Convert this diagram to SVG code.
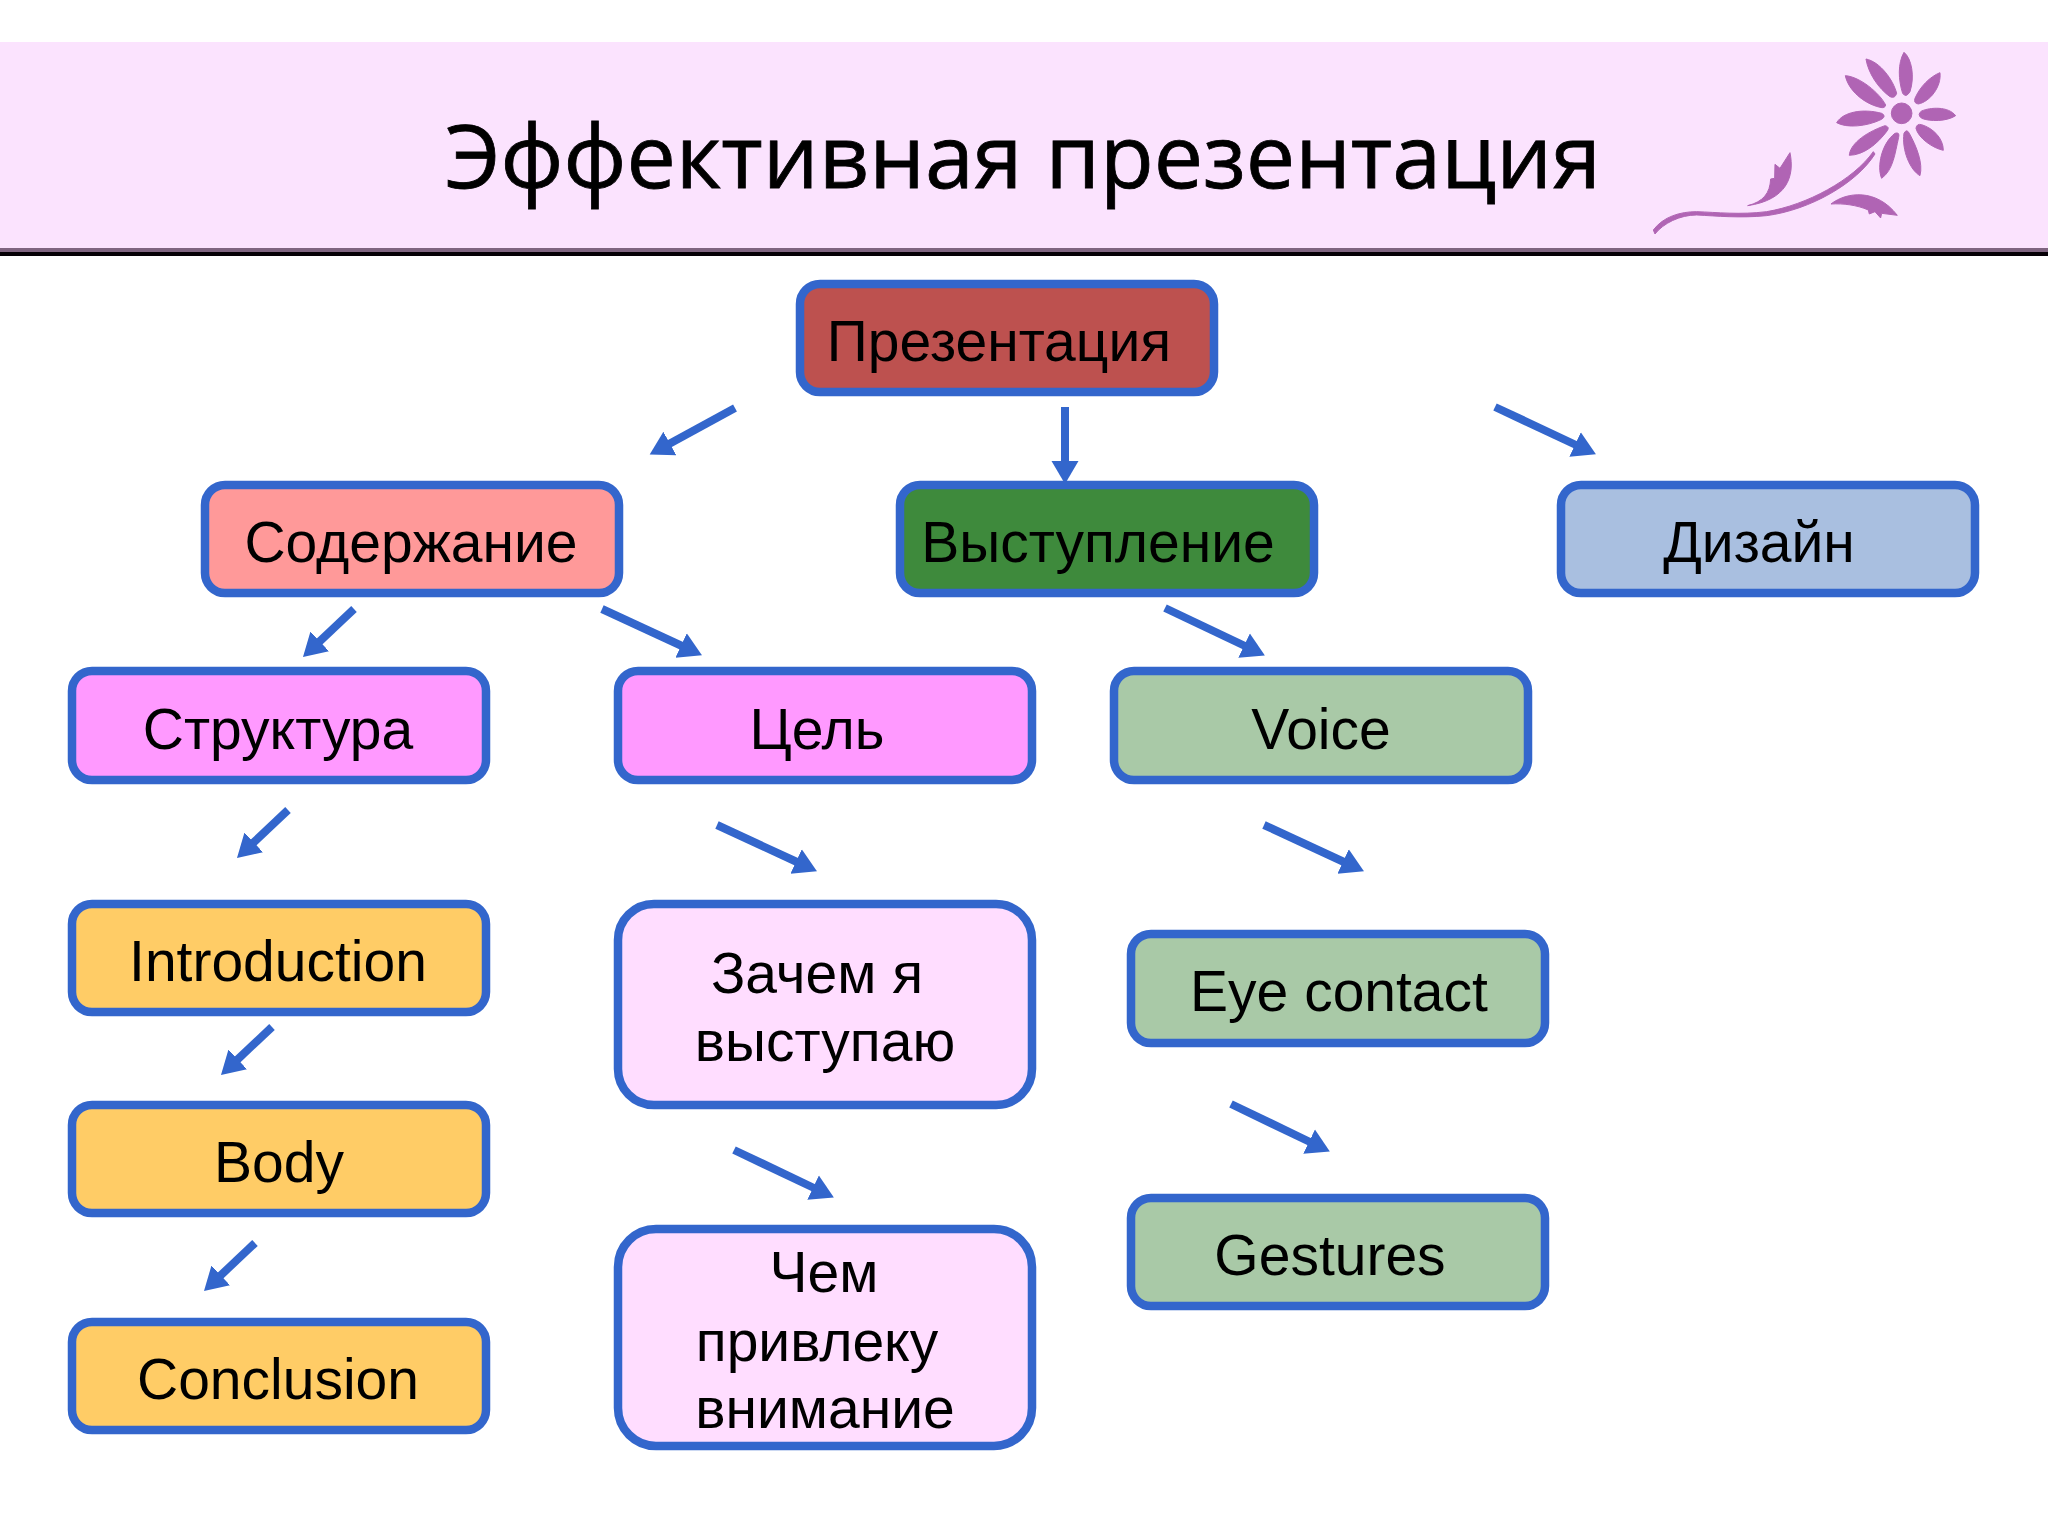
<svg xmlns="http://www.w3.org/2000/svg" width="2048" height="1536" viewBox="0 0 2048 1536">
<style>
.b{stroke:#3366cc;stroke-width:8.500}
.t{font-family:"Liberation Sans",Arial,sans-serif;font-size:57px;fill:#000;text-anchor:middle}
.c{stroke:#3366cc;stroke-width:8;fill:none;marker-end:url(#a)}
.f{fill:#b064b4;stroke:#b064b4;stroke-width:3}
</style>
<defs>
<marker id="a" markerUnits="userSpaceOnUse" markerWidth="26" markerHeight="30" refX="1" refY="15" orient="auto"><path d="M0,1.500L23,15L0,28.500Z" fill="#3366cc"/></marker>
</defs>
<rect width="2048" height="1536" fill="#fff"/>
<g id="header">
<rect x="0" y="42" width="2048" height="206" fill="#fbe3fe"/>
<rect x="0" y="248" width="2048" height="4" fill="#7f6480"/>
<rect x="0" y="252" width="2048" height="4" fill="#050005"/>
<text x="1023" y="188" font-family="'Open Sans',sans-serif" font-size="88" stroke="#000" stroke-width=".8" fill="#000" text-anchor="middle">Эффективная презентация</text>
<g transform="translate(1600,30) scale(.3333)" class="f">
<circle cx="905" cy="250" r="31"/>
<path d="M912,67C935,85 945,140 930,185Q918,205 908,190C895,150 893,100 912,67Z"/>
<path d="M1020,128C1025,170 990,215 955,222Q940,220 945,205C960,170 990,140 1020,128Z"/>
<path d="M1067,257C1040,275 990,275 965,265Q950,253 965,243C990,232 1045,228 1067,257Z"/>
<path d="M1030,361C1000,355 955,325 948,295Q950,280 965,284C1000,295 1030,325 1030,361Z"/>
<path d="M960,437C930,420 905,360 912,310Q920,295 928,310C950,350 970,400 960,437Z"/>
<path d="M845,445C830,410 845,340 885,310Q900,305 896,322C885,370 880,420 845,445Z"/>
<path d="M748,376C750,345 790,310 855,287Q870,290 862,302C830,345 790,375 748,376Z"/>
<path d="M710,278C730,245 790,235 845,250Q860,258 845,268C800,290 740,295 710,278Z"/>
<path d="M736,137C780,140 840,190 857,225Q855,236 840,232C790,220 745,180 736,137Z"/>
<path d="M798,87C840,95 880,150 890,190Q885,207 870,200C835,175 805,130 798,87Z"/>
<path d="M160,600C190,560 240,545 290,545C350,547 420,555 500,545C620,525 760,450 820,365L825,372C770,460 630,540 500,557C420,565 350,558 290,555C240,555 190,580 165,612Z"/>
<path d="M443,527C490,515 510,490 512,447L524,445L525,403L540,415L570,368C585,440 560,510 443,527Z"/>
<path d="M693,522C740,485 830,475 892,556L845,550L842,564L825,545L808,552L805,540C770,525 730,520 693,522Z"/>
</g>
</g>
<g id="connectors">
<path class="c" d="M735,408L669,444"/>
<path class="c" d="M1065,407V462"/>
<path class="c" d="M1495,407L1576,445"/>
<path class="c" d="M354,609L319,642"/>
<path class="c" d="M602,609L682,646"/>
<path class="c" d="M1165,608L1245,646"/>
<path class="c" d="M288,810L253,843"/>
<path class="c" d="M717,825L797,862"/>
<path class="c" d="M1264,825L1344,862"/>
<path class="c" d="M272,1027L237,1060"/>
<path class="c" d="M734,1150L814,1188"/>
<path class="c" d="M1231,1104L1310,1142"/>
<path class="c" d="M255,1243L220,1276"/>
</g>
<g id="n1"><rect class="b" x="800" y="284" width="414" height="108" rx="20" fill="#bd514f"/><text class="t" x="999" y="361">Презентация</text></g>
<g id="n2"><rect class="b" x="205" y="485" width="414" height="108" rx="20" fill="#ff9999"/><text class="t" x="411" y="562">Содержание</text></g>
<g id="n3"><rect class="b" x="900" y="485" width="414" height="108" rx="20" fill="#3e8a3c"/><text class="t" x="1098" y="562">Выступление</text></g>
<g id="n4"><rect class="b" x="1561" y="485" width="414" height="108" rx="20" fill="#a9bfe0"/><text class="t" x="1759" y="562">Дизайн</text></g>
<g id="n5"><rect class="b" x="72" y="671" width="414" height="109" rx="20" fill="#ff99ff"/><text class="t" x="278" y="749">Структура</text></g>
<g id="n6"><rect class="b" x="618" y="671" width="414" height="109" rx="20" fill="#ff99ff"/><text class="t" x="817" y="749">Цель</text></g>
<g id="n7"><rect class="b" x="1114" y="671" width="414" height="109" rx="20" fill="#a9c9a7"/><text class="t" x="1321" y="749">Voice</text></g>
<g id="n8"><rect class="b" x="72" y="904" width="414" height="108" rx="20" fill="#ffcc66"/><text class="t" x="278" y="981">Introduction</text></g>
<g id="n9"><rect class="b" x="72" y="1105" width="414" height="108" rx="20" fill="#ffcc66"/><text class="t" x="279" y="1182">Body</text></g>
<g id="n10"><rect class="b" x="72" y="1322" width="414" height="108" rx="20" fill="#ffcc66"/><text class="t" x="278" y="1399">Conclusion</text></g>
<g id="n11"><rect class="b" x="618" y="904" width="414" height="201" rx="36" fill="#ffddff"/><text class="t" x="817" y="993">Зачем я</text><text class="t" x="825" y="1061">выступаю</text></g>
<g id="n12"><rect class="b" x="618" y="1229" width="414" height="217" rx="38" fill="#ffddff"/><text class="t" x="824" y="1292">Чем</text><text class="t" x="817" y="1361">привлеку</text><text class="t" x="825" y="1428">внимание</text></g>
<g id="n13"><rect class="b" x="1131" y="934" width="414" height="109" rx="20" fill="#a9c9a7"/><text class="t" x="1339" y="1011">Eye contact</text></g>
<g id="n14"><rect class="b" x="1131" y="1198" width="414" height="108" rx="20" fill="#a9c9a7"/><text class="t" x="1330" y="1275">Gestures</text></g>
</svg>
